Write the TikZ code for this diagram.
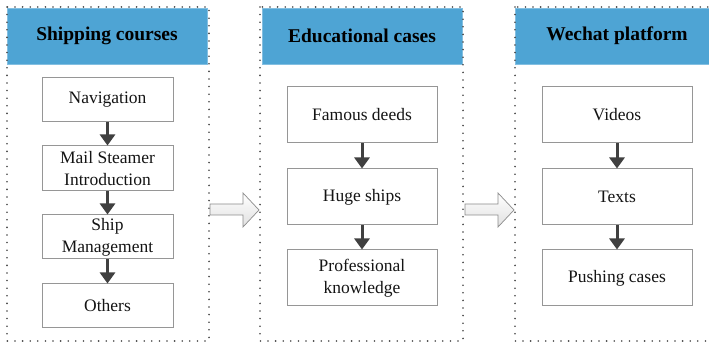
\documentclass[tikz,border=0pt]{standalone}
\usepackage{fontspec}
\setmainfont{Liberation Serif}
\newfontfamily\tms{Liberation Serif}
\usetikzlibrary{arrows.meta}
\definecolor{hdr}{RGB}{78,164,212}
\definecolor{boxline}{RGB}{150,150,150}
\definecolor{dotc}{RGB}{70,70,70}
\definecolor{arr}{RGB}{64,64,64}
\definecolor{txt}{RGB}{20,20,20}
\tikzset{
  panel/.style={draw=dotc, line width=1.8pt, dash pattern=on 0pt off 7.6pt, line cap=round},
  header/.style={fill=hdr, draw=hdr!70!white, line width=0.6pt, minimum height=56pt, inner sep=0pt,
     font=\tms\fontsize{19.5}{23}\selectfont\bfseries, text=black},
  item/.style={draw=boxline, line width=1pt, fill=white, inner sep=0pt, align=center,
     font=\tms\fontsize{17.5}{22}\selectfont, text=txt},
  downarrow/.style={draw=arr, line width=3pt, -{Triangle[length=11pt,width=15pt]}},
  hollow/.style={draw=black!45, line width=0.7pt, top color=white, bottom color=black!12},
}
\begin{document}
\begin{tikzpicture}[x=1pt,y=-1pt]
\useasboundingbox (0,0) rectangle (709,344);
\clip (0,0) rectangle (709,344);
\fill[white] (0,0) rectangle (709,344);

% headers
\node[header, minimum width=200pt] (h1) at (107,36) {Shipping courses};
\node[header, minimum width=200pt] (h2) at (362,36) {Educational cases};
\node[header, minimum width=204pt] (h3) at (617,36) {Wechat platform};

% panels
\draw[panel] (7,7) rectangle (209,341);
\draw[panel] (260,7) rectangle (463,341);
\draw[panel] (515,7) rectangle (760,341);

% panel 1 items
\node[item, minimum width=131pt, minimum height=44pt] (a1) at (107.5,100) {Navigation};
\node[item, minimum width=131pt, minimum height=45pt] (a2) at (107.5,168.5) {Mail Steamer\\Introduction};
\node[item, minimum width=131pt, minimum height=44pt] (a3) at (107.5,237) {Ship\\Management};
\node[item, minimum width=131pt, minimum height=44pt] (a4) at (107.5,306) {Others};

% panel 2 items
\node[item, minimum width=150pt, minimum height=56pt] (b1) at (362,115) {Famous deeds};
\node[item, minimum width=150pt, minimum height=56pt] (b2) at (362,197) {Huge ships};
\node[item, minimum width=150pt, minimum height=56pt] (b3) at (362,278) {Professional\\knowledge};

% panel 3 items
\node[item, minimum width=150pt, minimum height=56pt] (c1) at (617,115) {Videos};
\node[item, minimum width=150pt, minimum height=56pt] (c2) at (617,197) {Texts};
\node[item, minimum width=150pt, minimum height=56pt] (c3) at (617,278) {Pushing cases};

% down arrows
\draw[downarrow] (a1) -- (a2);
\draw[downarrow] (a2) -- (a3);
\draw[downarrow] (a3) -- (a4);
\draw[downarrow] (b1) -- (b2);
\draw[downarrow] (b2) -- (b3);
\draw[downarrow] (c1) -- (c2);
\draw[downarrow] (c2) -- (c3);

% hollow arrows between panels
\draw[hollow] (210,204) -- (243,204) -- (243,193) -- (259,210) -- (243,227) -- (243,215) -- (210,215) -- cycle;
\draw[hollow] (465,204) -- (498,204) -- (498,193) -- (514,210) -- (498,227) -- (498,215) -- (465,215) -- cycle;
\end{tikzpicture}
\end{document}
